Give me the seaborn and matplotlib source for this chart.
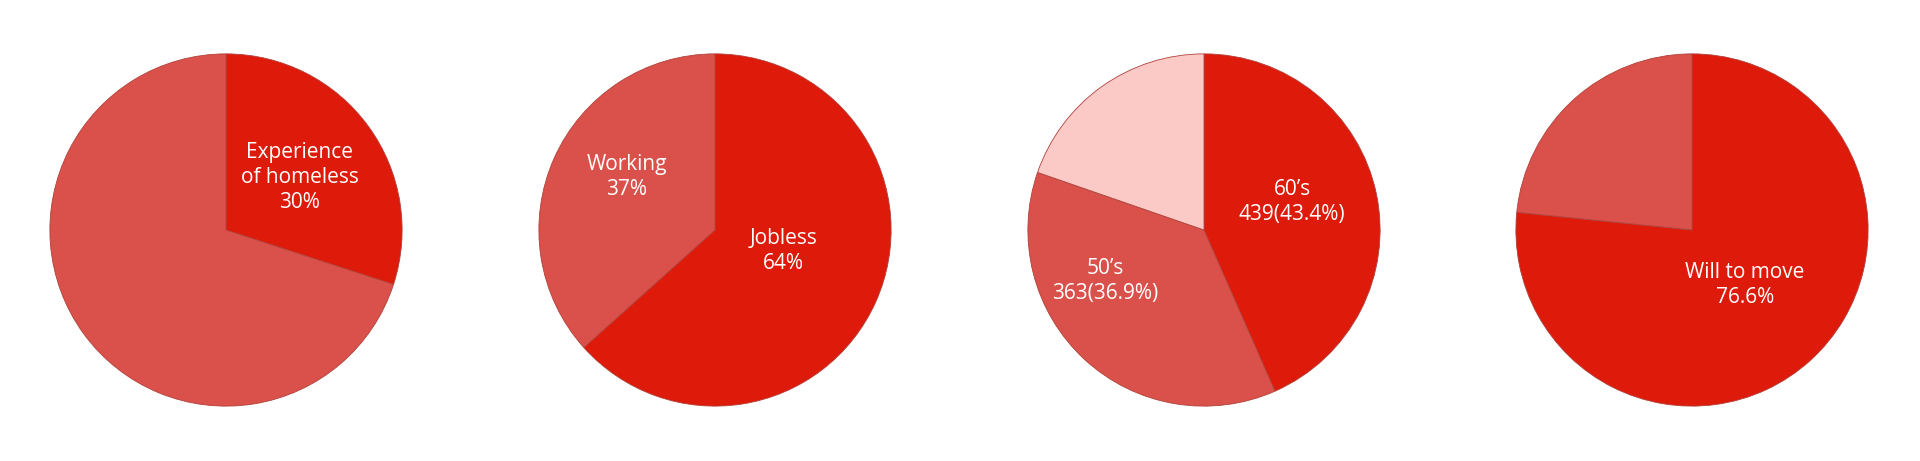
import matplotlib
matplotlib.use("Agg")
import matplotlib.pyplot as plt
import seaborn as sns

sns.set_theme(style="white")
plt.rcParams['font.family'] = ['Open Sans', 'DejaVu Sans']

RED = "#de1a0a"
MID = "#d9514a"
LIGHT = "#fccac6"

pie1_values = [30, 70]
pie1_labels = ["Experience\nof homeless\n30%", ""]
pie2_values = [64, 37]
pie2_labels = ["Jobless\n64%", "Working\n37%"]
pie3_values = [43.4, 36.9, 19.7]
pie3_labels = ["60’s\n439(43.4%)", "50’s\n363(36.9%)", ""]
pie4_values = [76.6, 23.4]
pie4_labels = ["Will to move\n76.6%", ""]

pies = [
    (pie1_values, pie1_labels, [RED, MID], [(0.42, 0.30), None]),
    (pie2_values, pie2_labels, [RED, MID], [(0.39, -0.12), (-0.5, 0.30)]),
    (pie3_values, pie3_labels, [RED, MID, LIGHT], [(0.5, 0.16), (-0.56, -0.29), None]),
    (pie4_values, pie4_labels, [RED, MID], [(0.30, -0.31), None]),
]

W, H = 1920, 461
fig = plt.figure(figsize=(W / 100, H / 100), dpi=100)
centers_x = [226, 715, 1204, 1692]
cy = 231
size = 354
for (vals, labels, cols, pos), cx in zip(pies, centers_x):
    ax = fig.add_axes([(cx - size / 2) / W, (cy - size / 2) / H, size / W, size / H])
    ax.pie(vals, colors=cols, startangle=90, counterclock=False, radius=1,
           wedgeprops=dict(edgecolor="#b0413a", linewidth=0.6))
    for lab, p in zip(labels, pos):
        if p and lab:
            ax.text(p[0], p[1], lab, color="white", ha="center", va="center",
                    fontsize=15, linespacing=1.25)
    ax.set_xlim(-1.005, 1.005)
    ax.set_ylim(-1.005, 1.005)
    ax.set_aspect("equal")
    ax.axis("off")

fig.savefig("out.png", dpi=100, facecolor="white")
